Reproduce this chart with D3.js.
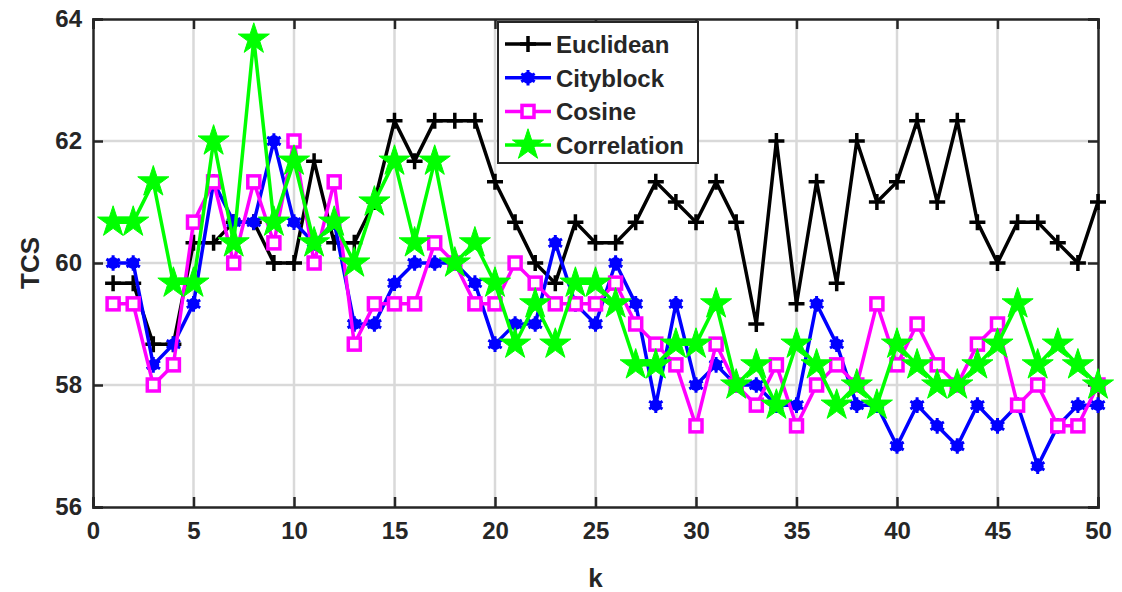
<!DOCTYPE html>
<html>
<head>
<meta charset="utf-8">
<script src="https://cdn.jsdelivr.net/npm/d3@7"></script>
<style>
  body { margin: 0; background: #fff; }
  svg text { font-family: Arial, "Liberation Sans", sans-serif; font-weight: bold; fill: #262626; }
</style>
</head>
<body>
<svg id="chart" width="1122" height="592"></svg>
<script>
// k = 1..50
var kValues = d3.range(1, 51);

var euclidean = [59.67, 59.67, 58.67, 58.67, 60.33, 60.33, 60.67, 60.67, 60, 60,
    61.67, 60.33, 60.33, 61, 62.33, 61.67, 62.33, 62.33, 62.33, 61.33,
    60.67, 60, 59.67, 60.67, 60.33, 60.33, 60.67, 61.33, 61, 60.67,
    61.33, 60.67, 59, 62, 59.33, 61.33, 59.67, 62, 61, 61.33,
    62.33, 61, 62.33, 60.67, 60, 60.67, 60.67, 60.33, 60, 61];

var cityblock = [60, 60, 58.33, 58.67, 59.33, 61.33, 60.67, 60.67, 62, 60.67,
    60.33, 60.67, 59, 59, 59.67, 60, 60, 60, 59.67, 58.67,
    59, 59, 60.33, 59.33, 59, 60, 59.33, 57.67, 59.33, 58,
    58.33, 58, 58, 57.67, 57.67, 59.33, 58.67, 57.67, 57.67, 57,
    57.67, 57.33, 57, 57.67, 57.33, 57.67, 56.67, 57.33, 57.67, 57.67];

var cosine = [59.33, 59.33, 58, 58.33, 60.67, 61.33, 60, 61.33, 60.33, 62,
    60, 61.33, 58.67, 59.33, 59.33, 59.33, 60.33, 60, 59.33, 59.33,
    60, 59.67, 59.33, 59.33, 59.33, 59.67, 59, 58.67, 58.33, 57.33,
    58.67, 58, 57.67, 58.33, 57.33, 58, 58.33, 58, 59.33, 58.33,
    59, 58.33, 58, 58.67, 59, 57.67, 58, 57.33, 57.33, 58];

var correlation = [60.67, 60.67, 61.33, 59.67, 59.67, 62, 60.33, 63.67, 60.67, 61.67,
    60.33, 60.67, 60, 61, 61.67, 60.33, 61.67, 60, 60.33, 59.67,
    58.67, 59.33, 58.67, 59.67, 59.67, 59.33, 58.33, 58.33, 58.67, 58.67,
    59.33, 58, 58.33, 57.67, 58.67, 58.33, 57.67, 58, 57.67, 58.67,
    58.33, 58, 58, 58.33, 58.67, 59.33, 58.33, 58.67, 58.33, 58];

var seriesNames = ["Euclidean", "Cityblock", "Cosine", "Correlation"];
var seriesColors = ["#000000", "#0000ff", "#ff00ff", "#00ff00"];
var seriesMarkers = ["plus", "asterisk", "square", "star"];
var xTicks = [0, 5, 10, 15, 20, 25, 30, 35, 40, 45, 50];
var yTicks = [56, 58, 60, 62, 64];

var series = [euclidean, cityblock, cosine, correlation].map(function(vals, i) {
    return {
        name: seriesNames[i], color: seriesColors[i], marker: seriesMarkers[i],
        values: vals.map(function(v, j) { return { k: kValues[j], v: v }; })
    };
});

var svg = d3.select("#chart");
var plotLeft = 93, plotRight = 1098, plotTop = 19, plotBottom = 507;

var x = d3.scaleLinear().domain([0, 50]).range([plotLeft, plotRight]);
var y = d3.scaleLinear().domain([56, 64]).range([plotBottom, plotTop]);

// grid
var grid = svg.append("g");
grid.selectAll(".vg").data(xTicks.slice(1, -1)).enter().append("line")
    .attr("x1", d => x(d)).attr("x2", d => x(d))
    .attr("y1", plotTop).attr("y2", plotBottom)
    .attr("stroke", "#d9d9d9").attr("stroke-width", 2.5);
grid.selectAll(".hg").data(yTicks.slice(1, -1)).enter().append("line")
    .attr("x1", plotLeft).attr("x2", plotRight)
    .attr("y1", d => y(d)).attr("y2", d => y(d))
    .attr("stroke", "#d9d9d9").attr("stroke-width", 2.5);

// axes (ticks pointing inwards, MATLAB style)
var xAxis = d3.axisBottom(x).tickValues(xTicks).tickSize(-10).tickPadding(15);
var yAxis = d3.axisLeft(y).tickValues(yTicks).tickSize(-10).tickPadding(11);
var xTop = d3.axisTop(x).tickValues(xTicks).tickSize(-10).tickFormat("");
var yRight = d3.axisRight(y).tickValues(yTicks).tickSize(-10).tickFormat("");

function styleAxis(g) {
    g.selectAll("path, line").attr("stroke", "#262626").attr("stroke-width", 2.5);
    g.selectAll("text").style("font-size", "24px").attr("fill", "#262626");
    g.select(".domain").attr("stroke-width", 2.5);
}

svg.append("g").attr("transform", "translate(0," + plotBottom + ")").call(xAxis).call(styleAxis);
svg.append("g").attr("transform", "translate(" + plotLeft + ",0)").call(yAxis).call(styleAxis);
svg.append("g").attr("transform", "translate(0," + plotTop + ")").call(xTop).call(styleAxis);
svg.append("g").attr("transform", "translate(" + plotRight + ",0)").call(yRight).call(styleAxis);

svg.append("text").attr("x", x(25)).attr("y", 587).attr("text-anchor", "middle")
    .style("font-size", "26px").text("k");
svg.append("text").attr("transform", "translate(39," + y(60) + ") rotate(-90)")
    .attr("text-anchor", "middle").style("font-size", "26px").text("TCS");

// marker drawing
function drawMarker(g, type, color) {
    if (type === "plus") {
        g.append("path").attr("d", "M-8,0H8M0,-8V8")
            .attr("stroke", color).attr("stroke-width", 3.5).attr("fill", "none");
    } else if (type === "asterisk") {
        g.append("circle").attr("r", 6).attr("fill", color);
        g.append("path").attr("d", d3.symbol().type(d3.symbolAsterisk).size(170)())
            .attr("stroke", color).attr("stroke-width", 3).attr("fill", "none");
    } else if (type === "square") {
        g.append("rect").attr("x", -6).attr("y", -6).attr("width", 12).attr("height", 12)
            .attr("stroke", color).attr("stroke-width", 3.5).attr("fill", "#fff");
    } else if (type === "star") {
        g.append("path").attr("d", d3.symbol().type(d3.symbolStar).size(300)())
            .attr("fill", color).attr("stroke", color).attr("stroke-width", 1);
    }
}

var line = d3.line().x(d => x(d.k)).y(d => y(d.v));

series.forEach(function(s) {
    var g = svg.append("g");
    g.append("path").datum(s.values).attr("d", line)
        .attr("fill", "none").attr("stroke", s.color).attr("stroke-width", 3.5)
        .attr("stroke-linejoin", "miter");
    g.selectAll(".m").data(s.values).enter().append("g")
        .attr("transform", d => "translate(" + x(d.k) + "," + y(d.v) + ")")
        .each(function() { drawMarker(d3.select(this), s.marker, s.color); });
});

// legend
var legend = svg.append("g").attr("transform", "translate(498,22)");
legend.append("rect").attr("width", 200).attr("height", 141)
    .attr("fill", "#fff").attr("stroke", "#262626").attr("stroke-width", 2);
series.forEach(function(s, i) {
    var ly = 22 + i * 33.7;
    var row = legend.append("g").attr("transform", "translate(0," + ly + ")");
    row.append("line").attr("x1", 7).attr("x2", 53).attr("y1", 0).attr("y2", 0)
        .attr("stroke", s.color).attr("stroke-width", 3.5);
    var mg = row.append("g").attr("transform", "translate(30,0)");
    drawMarker(mg, s.marker, s.color);
    row.append("text").attr("x", 58).attr("y", 9).style("font-size", "24px").text(s.name);
});
</script>
</body>
</html>
